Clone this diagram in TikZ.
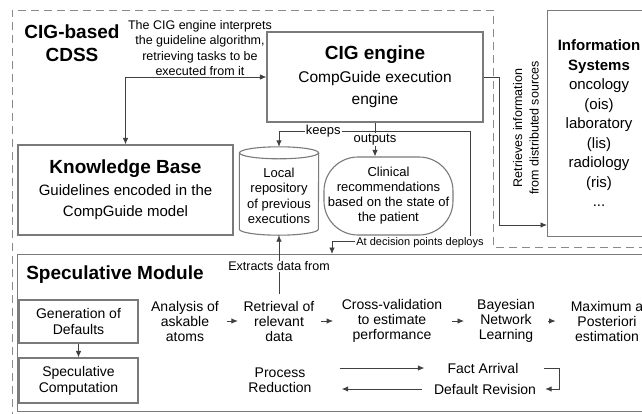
\documentclass[tikz,border=0pt]{standalone}
\usepackage{fontspec}
\setmainfont{Liberation Sans}
\usetikzlibrary{arrows.meta}
\definecolor{boxgray}{HTML}{7A7A7A}
\definecolor{linegray}{HTML}{404040}
\definecolor{dashgray}{HTML}{8A8A8A}
\newcommand{\myfs}[2]{\fontsize{#1}{#2}\selectfont}
\begin{document}
\begin{tikzpicture}[x=1pt,y=-1pt,
  box/.style={draw=boxgray, line width=1.1pt, rectangle, inner sep=0pt, align=center},
  conn/.style={draw=linegray, line width=0.9pt},
  arrow/.style={conn, -{Latex[length=6.5pt,width=5.5pt]}},
  lab/.style={fill=white, inner sep=1pt, font=\myfs{13}{15}},
  flow/.style={align=center, font=\myfs{14}{15}, inner sep=3pt},
]
\useasboundingbox (0,0) rectangle (642,413);
\clip (0,0) rectangle (642,413);

% dashed outline
\draw[draw=dashgray, line width=1pt, dash pattern=on 8pt off 5pt]
  (660,247) -- (493,247) -- (493,10) -- (12,10) -- (12,420);

% top part
\node[font=\bfseries\myfs{19}{23}, align=center] (cdss) at (72,43) {CIG-based\\CDSS};
\node[font=\myfs{12.5}{15.3}, align=center] (note) at (200,48)
  {The CIG engine interprets\\the guideline algorithm,\\retrieving tasks to be\\executed from it};

\node[box, minimum width=216pt, minimum height=90pt, font=\myfs{15.5}{22.5}] (cig) at (375,77)
  {{\bfseries\myfs{19}{22.5}CIG engine}\\CompGuide execution\\engine};

\node[box, minimum width=215pt, minimum height=90pt, font=\myfs{15}{21.5}] (kb) at (125.5,190)
  {{\bfseries\myfs{19}{21.5}Knowledge Base}\\Guidelines encoded in the\\CompGuide model};

% repository cylinder
\node[minimum width=79pt, minimum height=88pt, inner sep=0pt] (repo) at (279,191) {};
\draw[boxgray, line width=1.1pt] (repo.north) ++(0,6) ellipse[x radius=39.5pt, y radius=6pt];
\draw[boxgray, line width=1.1pt] ([yshift=-6pt]repo.north west) -- ([yshift=6pt]repo.south west)
  arc[start angle=180, end angle=360, x radius=39.5pt, y radius=6pt] -- ([yshift=-6pt]repo.north east);
\node[align=center, font=\myfs{13}{15.5}] (repotext) at (279,196) {Local\\repository\\of previous\\executions};

\node[box, rounded corners=34pt, minimum width=129pt, minimum height=78pt, font=\myfs{13}{15}] (clin) at (388.5,196)
  {Clinical\\recommendations\\based on the state of\\the patient};

\node[box, anchor=north west, minimum width=103pt, minimum height=226pt, font=\myfs{15}{19.5}] (info) at (547,10)
  {{\bfseries Information}\\{\bfseries Systems}\\oncology\\(ois)\\laboratory\\(lis)\\radiology\\(ris)\\...};

\node[rotate=90, align=center, font=\myfs{12.5}{16.5}] (retr) at (526,128)
  {Retrieves information\\from distributed sources};

% speculative module
\node[box, anchor=north west, minimum width=650pt, minimum height=157pt] (spec) at (17,254) {};
\node[font=\bfseries\myfs{19}{22}] (spectitle) at (115,275) {Speculative Module};
\node[box, minimum width=119pt, minimum height=43pt, font=\myfs{14}{16}] (gen) at (78.5,321.5) {Generation of\\Defaults};
\node[box, minimum width=119pt, minimum height=45pt, font=\myfs{14}{16}] (specc) at (78.5,380.5) {Speculative\\Computation};

\node[flow] (ana) at (185,321) {Analysis of\\askable\\atoms};
\node[flow] (ret) at (279,321) {Retrieval of\\relevant\\data};
\node[flow] (cv) at (392,321) {Cross-validation\\to estimate\\performance};
\node[flow] (bn) at (506,321) {Bayesian\\Network\\Learning};
\node[flow] (map) at (607,321) {Maximum a\\Posteriori\\estimation};
\node[flow] (pr) at (280,380) {Process\\Reduction};
\node[flow] (fa) at (483,368) {Fact Arrival};
\node[flow] (dr) at (485,389) {Default Revision};

% connectors (top)
\coordinate (j) at (375,131);
\coordinate (d1) at (470,131);
\coordinate (d2) at (332,241);
\coordinate (iy) at (0,225);
\draw[conn, {Latex[length=6.5pt,width=5.5pt]}-{Latex[length=6.5pt,width=5.5pt]}] (kb.north) |- (cig.west);
\draw[conn] (cig.south) -- (j);
\draw[arrow] (j) -| node[lab, pos=0.27] (keepslab) {keeps} (repo.north);
\draw[arrow] (j) -- node[lab, pos=0.35] (outlab) {outputs} (j |- clin.north);
\draw[arrow] (j) -- (d1) |- (d2) -- (d2 |- spec.north);
\node[lab, font=\myfs{11}{13}, inner sep=1.5pt] (deplab) at (420,243) {At decision points deploys};
\draw[arrow] (cig.east) -- ++(16,0) |- (info.west |- iy);
\draw[arrow, shorten <=4pt] (ret.north) -- node[lab, font=\myfs{12.5}{14}] (extlab) {Extracts data from} (repo.south);

% connectors (speculative module)
\draw[arrow] (gen.south) -- (specc.north);
\draw[arrow, shorten <=5pt, shorten >=2.5pt] (ana.east) -- (ret.west);
\draw[arrow, shorten <=3.5pt, shorten >=5.5pt] (ret.east) -- (cv.west);
\draw[arrow, shorten <=6.5pt, shorten >=10pt] (cv.east) -- (bn.west);
\draw[arrow, shorten <=10pt, shorten >=12pt] (bn.east) -- (map.west);
\draw[arrow, shorten <=25pt, shorten >=20pt] (pr.east |- fa.west) -- (fa.west);
\draw[arrow, shorten <=9pt, shorten >=27pt] (dr.west) -- (pr.east |- dr.west);
\draw[arrow] ([xshift=22.5pt]fa.east) -- ++(15,0) |- ([xshift=6pt]dr.east);
\end{tikzpicture}
\end{document}
